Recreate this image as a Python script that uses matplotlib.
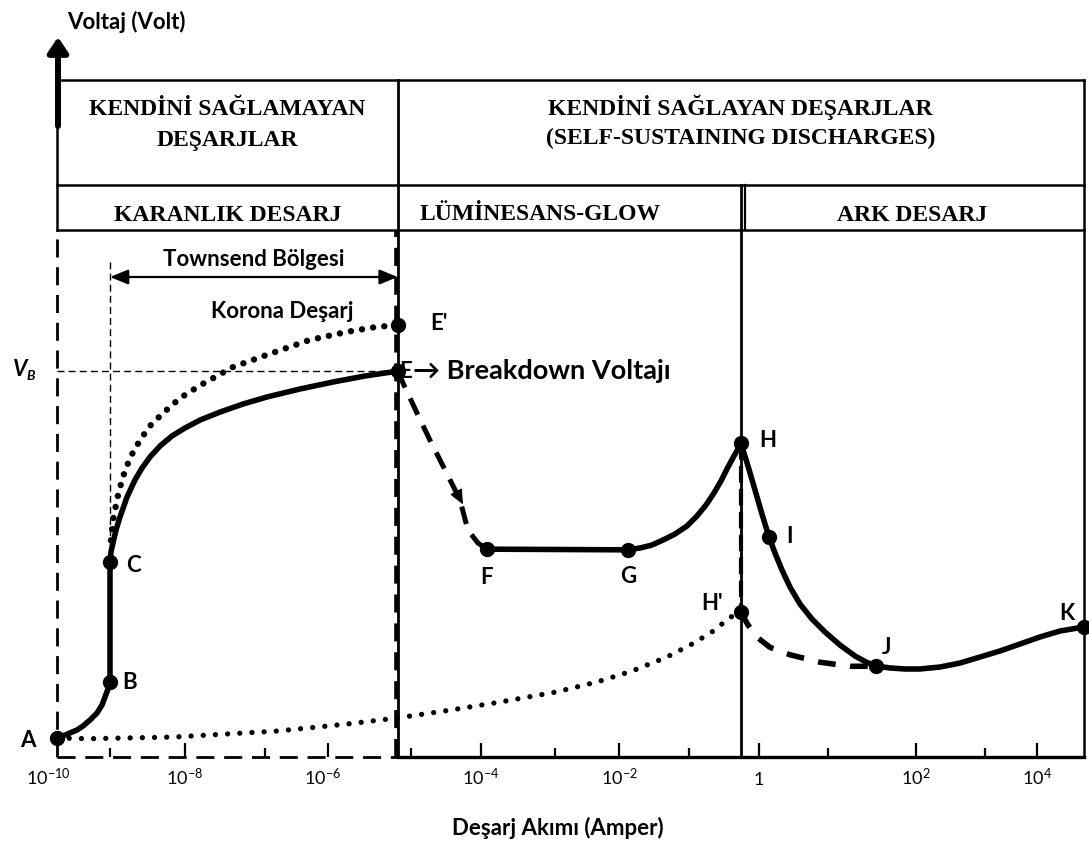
import numpy as np
import matplotlib
matplotlib.use("Agg")
import matplotlib.pyplot as plt

plt.rcParams['mathtext.fontset'] = 'custom'
plt.rcParams['mathtext.rm'] = 'Lato'
plt.rcParams['mathtext.it'] = 'Lato:italic'
plt.rcParams['mathtext.bf'] = 'Lato:bold'

SANS = ['Lato', 'DejaVu Sans']
SERIF = ['Liberation Serif', 'DejaVu Serif']

# ---------------- data ----------------
# x = log10(discharge current / A), y = voltage (arbitrary units, 0-100)
tick_exp = [-10, -8, -6, -4, -2, 0, 2, 4]
tick_labels = ['$10^{-10}$', '$10^{-8}$', '$10^{-6}$', '$10^{-4}$',
               '$10^{-2}$', '$1$', '$10^{2}$', '$10^{4}$']
minor_exp = [-9, -7, -5, -3, -1, 1, 3]

x_min, x_max = -10.0, 4.9
x_townsend = -9.0
x_breakdown = -5.16
x_arc = -0.26
v_breakdown = 57.0

point_names = ['A', 'B', 'C', "E'", 'E', 'F', 'G', 'H', 'I', "H'", 'J', 'K']
point_x = [-10.0, -9.0, -9.0, -5.16, -5.16, -3.92, -1.87, -0.26, 0.14, -0.26, 1.54, 4.9]
point_y = [2.8, 11.1, 28.8, 63.8, 57.0, 30.7, 30.6, 46.4, 32.5, 21.4, 13.4, 19.2]

ab_x = [-10.0, -9.887, -9.755, -9.623, -9.509, -9.377, -9.245, -9.151, -9.094, -9.038, -9.0]
ab_y = [2.8, 3.1, 3.55, 3.99, 4.58, 5.47, 6.5, 7.68, 8.86, 10.04, 11.1]
bc_x = [-9.0, -9.0]
bc_y = [11.1, 28.8]
ce_x = [-9.0, -8.987, -8.96, -8.92, -8.867, -8.773, -8.667, -8.573, -8.467, -8.333,
        -8.173, -8.0, -7.81, -7.56, -7.275, -6.968, -6.444, -5.94, -5.554, -5.16]
ce_y = [28.8, 30.28, 31.61, 33.53, 35.45, 38.4, 40.92, 42.69, 44.31, 45.94,
        47.42, 48.6, 49.78, 50.96, 52.14, 53.18, 54.36, 55.39, 56.28, 57.0]
corona_x = [-8.987, -8.96, -8.933, -8.893, -8.827, -8.733, -8.6, -8.467, -8.293,
            -8.067, -7.81, -7.4, -6.97, -6.29, -5.77, -5.43, -5.16]
corona_y = [32.0, 35.0, 36.5, 38.7, 41.4, 44.2, 46.8, 48.9, 50.8,
            53.0, 54.9, 57.6, 59.4, 61.6, 62.8, 63.5, 63.8]
ef_x = [-5.16, -5.084, -4.914, -4.729, -4.514, -4.30, -4.243, -4.186, -4.043, -3.92]
ef_y = [57.0, 54.9, 50.8, 46.8, 42.4, 38.0, 35.7, 33.5, 31.6, 30.7]
fg_x = [-3.92, -1.87]
fg_y = [30.7, 30.6]
gh_x = [-1.87, -1.7, -1.529, -1.371, -1.2, -1.029, -0.886, -0.757, -0.643, -0.543,
        -0.443, -0.357, -0.3, -0.26]
gh_y = [30.6, 30.87, 31.31, 32.05, 32.94, 34.12, 35.6, 37.22, 39.0, 40.77,
        42.84, 44.46, 45.49, 46.4]
hk_x = [-0.26, -0.157, -0.057, 0.043, 0.145, 0.232, 0.333, 0.449, 0.594, 0.768,
        0.957, 1.136, 1.307, 1.432, 1.545, 1.705, 1.875, 2.058, 2.348, 2.638,
        2.928, 3.288, 3.673, 4.058, 4.442, 4.9]
hk_y = [46.4, 42.98, 39.44, 35.89, 32.5, 30.13, 27.62, 25.11, 22.6, 20.38,
        18.46, 16.54, 14.92, 14.03, 13.44, 13.15, 13.0, 13.0, 13.29, 13.88,
        14.77, 15.66, 16.69, 17.73, 18.61, 19.2]
ah_x = [-10.0, -9.377, -8.147, -6.794, -5.771, -5.169, -4.429, -3.743, -2.984,
        -2.344, -1.814, -1.314, -0.929, -0.629, -0.429, -0.26]
ah_y = [2.8, 2.7, 2.95, 3.84, 4.87, 5.76, 6.94, 8.12, 9.6,
        11.08, 12.7, 14.77, 16.84, 18.76, 20.53, 21.4]
hj_x = [-0.26, -0.157, -0.029, 0.159, 0.449, 0.884, 1.25, 1.545]
hj_y = [21.4, 19.5, 17.7, 16.2, 15.1, 14.0, 13.4, 13.4]

# ---------------- figure / scale ----------------
W, H = 1089, 842
fig = plt.figure(figsize=(W / 100, H / 100), dpi=100)

knot_exp = np.concatenate(([-40.0], np.arange(-10, 6, dtype=float), [40.0]))
knot_pos = np.array([57 - 53 * 30, 57, 110, 185, 265, 328, 411, 481, 555, 619, 689,
                     759, 828, 916, 985, 1037, 1089, 1089 + 52 * 35], float)


def fwd(x):
    return np.interp(x, knot_exp, knot_pos)


def inv(p):
    return np.interp(p, knot_pos, knot_exp)


left_px, right_px = float(fwd(x_min)), float(fwd(x_max))
top_px, bot_px = 80.0, 757.0
ax = fig.add_axes([left_px / W, 1 - bot_px / H, (right_px - left_px) / W, (bot_px - top_px) / H])
ax.set_xscale('function', functions=(fwd, inv))
ax.set_xlim(x_min, x_max)
ax.set_ylim(0, 100)
for s in ax.spines.values():
    s.set_visible(False)
ax.set_yticks([])
ax.set_xticks(tick_exp[1:])
ax.set_xticklabels([])
ax.set_xticks(minor_exp, minor=True)
ax.tick_params(axis='x', which='major', direction='in', length=10, width=1.6)
ax.tick_params(axis='x', which='minor', direction='in', length=6.5, width=1.6)

ppu = (bot_px - top_px) / 100.0  # pixels per voltage unit


def ypx(py):
    return (bot_px - py) / ppu


def xmid(a, b):
    return float(inv((fwd(a) + fwd(b)) / 2))


def xshift(x, dpx):
    return float(inv(fwd(x) + dpx))


K = 'black'
box_lw = 1.8


def seg(x, y, **kw):
    kw.setdefault('color', K)
    kw.setdefault('lw', box_lw)
    ax.plot(x, y, clip_on=False, **kw)


# ---- header boxes ----
row1 = ypx(185)
row2 = ypx(230)
seg([x_min, x_max], [100, 100])
seg([x_min, x_max], [row1, row1])
seg([x_min, x_max], [row2, row2])
seg([x_min, x_min], [row2, 100])
seg([x_max, x_max], [0, 100])
seg([x_breakdown, x_breakdown], [0, 100], lw=2.0)
seg([x_arc, x_arc], [0, row1], lw=2.0)
seg([xshift(x_arc, 4), xshift(x_arc, 4)], [row2, row1], lw=1.6)

# dark discharge dashed frame
dash_frame = dict(lw=2.0, ls=(0, (6.5, 3.5)))
seg([x_min, x_min], [0, row2], **dash_frame)
seg([x_min, x_breakdown], [0, 0], **dash_frame)
seg([xshift(x_breakdown, -1.5)] * 2, [0, row2], lw=2.6, ls=(0, (5, 3)))
seg([x_breakdown, x_max], [0, 0], lw=2.4)

# thin dashed guides
thin = dict(lw=1.0, ls=(0, (5, 3)))
seg([x_min, x_breakdown], [v_breakdown, v_breakdown], **thin)
seg([x_townsend, x_townsend], [ypx(262), point_y[2]], **thin)

# ---- header texts ----
hdr = dict(family=SERIF, weight='bold', size=17, ha='center', va='baseline', color=K)
xl = xmid(x_min, x_breakdown)
xr = xmid(x_breakdown, x_max)
ax.text(xl, ypx(115), 'KENDİNİ SAĞLAMAYAN', **hdr)
ax.text(xl, ypx(146), 'DEŞARJLAR', **hdr)
ax.text(xr, ypx(115), 'KENDİNİ SAĞLAYAN DEŞARJLAR', **hdr)
ax.text(xr, ypx(144), '(SELF-SUSTAINING DISCHARGES)', **hdr)
ax.text(xl, ypx(221), 'KARANLIK DESARJ', **hdr)
ax.text(xshift(x_breakdown, 22), ypx(220), 'LÜMİNESANS-GLOW',
        **{**hdr, 'ha': 'left'})
ax.text(xmid(x_arc, x_max), ypx(221), 'ARK DESARJ', **hdr)

# ---- curves ----
solid = dict(color=K, lw=4.0, solid_capstyle='round', solid_joinstyle='round', clip_on=False, zorder=4)
ax.plot(ab_x, ab_y, **solid)
ax.plot(bc_x, bc_y, **solid)
ax.plot(ce_x, ce_y, **solid)
ax.plot(fg_x, fg_y, **solid)
ax.plot(gh_x, gh_y, **solid)
ax.plot(hk_x, hk_y, **solid)

ax.plot(corona_x, corona_y, color=K, lw=4.6, ls=(0, (0.01, 1.75)),
        dash_capstyle='round', clip_on=False, zorder=4)
ax.plot(ah_x, ah_y, color=K, lw=3.8, ls=(0, (0.01, 2.3)),
        dash_capstyle='round', clip_on=False, zorder=4)
ax.plot(ef_x, ef_y, color=K, lw=3.6, ls=(0, (3.6, 2.4)), clip_on=False, zorder=4)
ax.plot(hj_x, hj_y, color=K, lw=4.0, ls=(0, (3.2, 2.6)), clip_on=False, zorder=4)
ax.plot([x_arc, x_arc], [point_y[7], point_y[9]], color=K, lw=3.0,
        ls=(0, (4, 1.5)), clip_on=False, zorder=4)

# arrow head on E->F
ax.annotate('', xy=(-4.257, 37.3), xytext=(-4.36, 39.3),
            arrowprops=dict(arrowstyle='-|>,head_length=0.9,head_width=0.4',
                            color=K, lw=1.0, shrinkA=0, shrinkB=0), zorder=5)

# points
ax.plot(point_x, point_y, 'o', color=K, ms=10, clip_on=False, zorder=6)

# point labels
lab_off = {'A': (-29, -2), 'B': (20, -1), 'C': (23, -3), "E'": (41, 2),
           'E': (8, 0), 'F': (0, -28), 'G': (0, -27), 'H': (27, 2), 'I': (21, 0),
           "H'": (-29, 9), 'J': (11, 19), 'K': (-17, 14)}
for n, x, y in zip(point_names, point_x, point_y):
    dx, dy = lab_off[n]
    ax.annotate(n, (x, y), xytext=(dx, dy), textcoords='offset pixels',
                ha='center', va='center', family=SANS, weight='bold', size=16,
                color=K, annotation_clip=False, zorder=7)
ax.annotate('→ Breakdown Voltajı', (x_breakdown, v_breakdown), xytext=(15, 0),
            textcoords='offset pixels', ha='left', va='center', family=SANS,
            weight='bold', size=19.5, color=K, annotation_clip=False)

# Townsend region arrow
ax.annotate('', xy=(x_breakdown, ypx(277)), xytext=(x_townsend, ypx(277)),
            arrowprops=dict(arrowstyle='<|-|>,head_length=1.1,head_width=0.45',
                            color=K, lw=1.6, shrinkA=0, shrinkB=0))
ax.text(xmid(x_townsend, x_breakdown), ypx(260), 'Townsend Bölgesi',
        family=SANS, weight='bold', size=16, ha='center', va='center')
ax.text(float(inv(282)), ypx(312), 'Korona Deşarj', family=SANS, weight='bold',
        size=16, ha='center', va='center')

# x tick labels
label_shift = [-9, 0, -5, 0, 0, 0, 0, 0]
for e, lab, d in zip(tick_exp, tick_labels, label_shift):
    ax.text(xshift(e, d), ypx(785), lab, family=SANS, size=13, ha='center',
            va='baseline', clip_on=False)

# axis titles
fig.text(558 / W, 1 - 828 / H, 'Deşarj Akımı (Amper)', family=SANS, weight='bold',
         size=16, ha='center', va='center')
fig.text(67 / W, 1 - 22 / H, 'Voltaj (Volt)', family=SANS, weight='bold',
         size=16, ha='left', va='center')

# V_B label
fig.text(20 / W, 1 - 369 / H, 'V', family=SANS, weight='bold', style='italic',
         size=16, ha='center', va='center')
fig.text(31 / W, 1 - 376 / H, 'B', family=SANS, weight='bold', style='italic',
         size=10, ha='center', va='center')

# vertical voltage arrow
fig.add_artist(matplotlib.patches.FancyArrowPatch(
    (58, H - 126), (58, H - 37), transform=None,
    arrowstyle='-|>,head_length=9,head_width=6', mutation_scale=1,
    lw=4.3, color=K, shrinkA=0, shrinkB=0))

fig.savefig('out.png', dpi=100)
